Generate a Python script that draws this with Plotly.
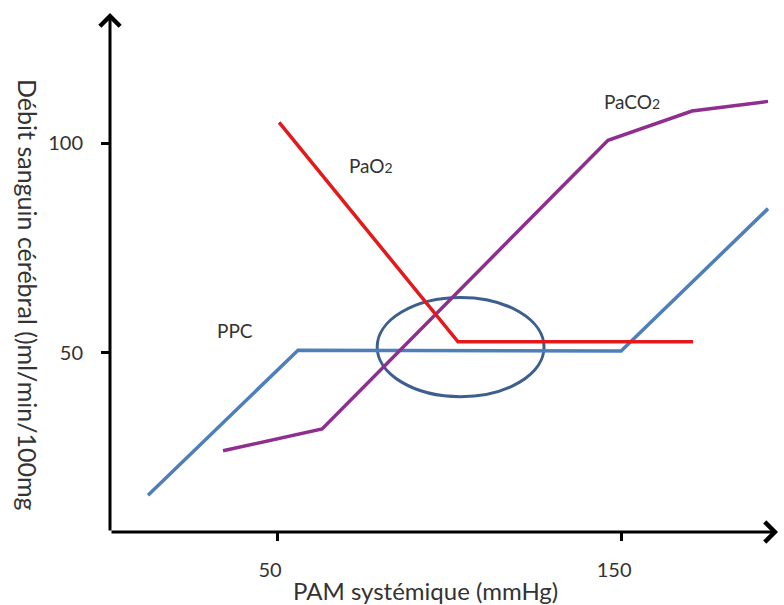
import plotly.graph_objects as go

# ---- data ----
ppc_x = [12.5, 56.1, 150.0, 192.7]
ppc_y = [16.0, 50.6, 50.4, 84.4]

pao2_x = [50.6, 102.6, 170.9]
pao2_y = [105.0, 52.6, 52.6]

paco2_x = [34.3, 63.1, 146.2, 170.6, 192.7]
paco2_y = [26.6, 31.8, 100.7, 107.7, 110.0]

x_ticks = [50, 150]
y_ticks = [50, 100]

x_range = [1.45, 195.6]
y_range = [7.2, 131.1]

# highlighted zone (ellipse)
zone_x = [79.1, 127.6]
zone_y = [39.5, 63.2]

labels = [("PPC", 37.8, 55.3), ("PaO<span style='font-size:14px'>2</span>", 77.3, 94.7),
          ("PaCO<span style='font-size:14px'>2</span>", 153.2, 110.0)]

FONT = "Lato, 'Open Sans', sans-serif"
TXT = "#333333"

fig = go.Figure()
fig.add_trace(go.Scatter(x=ppc_x, y=ppc_y, mode="lines",
                         line=dict(color="#4f7fb8", width=3.5), name="PPC"))
fig.add_trace(go.Scatter(x=paco2_x, y=paco2_y, mode="lines",
                         line=dict(color="#8e2f8e", width=3.5), name="PaCO2"))
fig.add_trace(go.Scatter(x=pao2_x, y=pao2_y, mode="lines",
                         line=dict(color="#e3191c", width=3.5), name="PaO2"))

fig.add_shape(type="circle", xref="x", yref="y",
              x0=zone_x[0], x1=zone_x[1], y0=zone_y[0], y1=zone_y[1],
              line=dict(color="#3c5f8d", width=3), layer="below")

# axes drawn as arrows
fig.add_annotation(x=x_range[1], y=y_range[0], ax=x_range[0], ay=y_range[0],
                   xref="x", yref="y", axref="x", ayref="y", text="",
                   showarrow=True, arrowhead=4, arrowsize=1.3, arrowwidth=3,
                   arrowcolor="black", standoff=0, startstandoff=0)
fig.add_annotation(x=x_range[0], y=y_range[1], ax=x_range[0], ay=y_range[0],
                   xref="x", yref="y", axref="x", ayref="y", text="",
                   showarrow=True, arrowhead=4, arrowsize=1.3, arrowwidth=3,
                   arrowcolor="black", standoff=0, startstandoff=0)

for t, x, y in labels:
    fig.add_annotation(x=x, y=y, xref="x", yref="y", text=t, showarrow=False,
                       font=dict(family=FONT, size=19, color=TXT))

fig.add_annotation(text="PAM systémique (mmHg)", xref="paper", yref="paper",
                   x=(425 - 110) / 668, y=0, yshift=-58, yanchor="middle",
                   showarrow=False,
                   font=dict(family=FONT, size=24, color=TXT))
fig.add_annotation(text="Débit sanguin cérébral ()ml/min/100mg", xref="paper", yref="paper",
                   x=0, xshift=-99, y=(532 - 295) / 519, textangle=90, showarrow=False,
                   font=dict(family=FONT, size=25, color=TXT))

fig.update_layout(
    width=784, height=605,
    margin=dict(l=110, r=6, t=13, b=73),
    plot_bgcolor="white", paper_bgcolor="white",
    showlegend=False,
    font=dict(family=FONT, color=TXT),
)
fig.update_xaxes(range=x_range, showgrid=False, zeroline=False, showline=False,
                 automargin=False,
                 tickvals=x_ticks, ticks="outside", ticklen=8, tickwidth=3,
                 tickcolor="black", ticklabelstandoff=12, ticklabelshift=-7,
                 tickfont=dict(family=FONT, size=20, color=TXT))
fig.update_yaxes(range=y_range, showgrid=False, zeroline=False, showline=False,
                 automargin=False,
                 tickvals=y_ticks, ticks="outside", ticklen=8, tickwidth=3,
                 tickcolor="black", ticklabelstandoff=14,
                 tickfont=dict(family=FONT, size=20, color=TXT))

fig.write_html("out.html", config={"displayModeBar": False},
               post_script="document.body.style.margin='0';")
